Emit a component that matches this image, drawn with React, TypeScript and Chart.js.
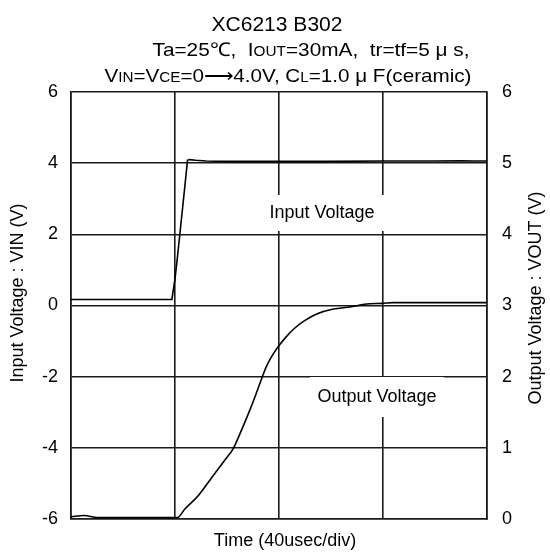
import React, { useEffect, useRef } from "react";
import { Chart, registerables } from "chart.js";

Chart.register(...registerables);

// Time in µs (40 µs/div, 4 divisions)
const inputTime = [0, 10, 20, 30, 38.8, 40.0, 41.0, 42.0, 43.0, 44.0, 44.8, 45.5, 48, 52, 60, 80, 100, 120, 140, 150, 155, 160];
const inputVolt = [0.17, 0.17, 0.17, 0.17, 0.17, 0.75, 1.4, 2.1, 2.8, 3.5, 4.08, 4.1, 4.08, 4.06, 4.05, 4.05, 4.05, 4.06, 4.06, 4.07, 4.06, 4.06];

const outputTime = [0, 5, 10, 20, 30, 40, 40.9, 43.8, 49, 54.1, 59.2, 62.4, 65, 68, 71, 73.6, 75, 76.5, 78, 80.1, 83, 86, 90, 94.5, 100.9, 107.3, 113.7, 119.7, 124, 140, 160];
const outputVolt = [0.03, 0.05, 0.02, 0.02, 0.02, 0.02, 0.02, 0.14, 0.33, 0.58, 0.83, 0.99, 1.2, 1.46, 1.74, 2.0, 2.13, 2.24, 2.33, 2.44, 2.57, 2.68, 2.79, 2.88, 2.95, 2.98, 3.02, 3.03, 3.04, 3.04, 3.04];

const leftTicks = [-6, -4, -2, 0, 2, 4, 6];
const rightTicks = [0, 1, 2, 3, 4, 5, 6];

const FONT = '"Liberation Sans", Arial, Helvetica, sans-serif';

type Seg = { t: string; s: number };

function drawRich(ctx: CanvasRenderingContext2D, segs: Seg[], cx: number, baseline: number, targetW?: number) {
  let total = 0;
  for (const sg of segs) {
    ctx.font = `${sg.s}px ${FONT}`;
    total += ctx.measureText(sg.t).width;
  }
  const k = targetW ? targetW / total : 1;
  ctx.save();
  ctx.translate(cx - (total * k) / 2, baseline);
  ctx.scale(k, 1);
  let x = 0;
  ctx.textAlign = "left";
  ctx.textBaseline = "alphabetic";
  for (const sg of segs) {
    ctx.font = `${sg.s}px ${FONT}`;
    ctx.fillText(sg.t, x, 0);
    x += ctx.measureText(sg.t).width;
  }
  ctx.restore();
}

const annotPlugin = {
  id: "annot",
  afterDraw(chart: any) {
    const ctx: CanvasRenderingContext2D = chart.ctx;
    ctx.save();
    ctx.fillStyle = "#000";
    // Titles
    drawRich(ctx, [{ t: "XC6213 B302", s: 20 }], 277, 31, 131);
    drawRich(
      ctx,
      [
        { t: "Ta=25℃,  I", s: 19 },
        { t: "OUT", s: 14 },
        { t: "=30mA,  tr=tf=5 μ s,", s: 19 },
      ],
      311,
      56,
      317
    );
    drawRich(
      ctx,
      [
        { t: "V", s: 19 },
        { t: "IN", s: 14 },
        { t: "=V", s: 19 },
        { t: "CE", s: 14 },
        { t: "=0⟶4.0V, C", s: 19 },
        { t: "L", s: 14 },
        { t: "=1.0 μ F(ceramic)", s: 19 },
      ],
      288,
      82,
      367
    );

    // In-plot labels with white boxes
    const boxes = [
      { text: "Input Voltage", cx: 322, cy: 213, w: 134, h: 36 },
      { text: "Output Voltage", cx: 377, cy: 397, w: 134, h: 40 },
    ];
    for (const b of boxes) {
      ctx.fillStyle = "#fff";
      ctx.fillRect(b.cx - b.w / 2, b.cy - b.h / 2, b.w, b.h);
      ctx.fillStyle = "#000";
      ctx.font = `18px ${FONT}`;
      ctx.textAlign = "center";
      ctx.textBaseline = "middle";
      ctx.fillText(b.text, b.cx, b.cy);
    }

    // Axis titles
    ctx.font = `18px ${FONT}`;
    ctx.textAlign = "center";
    ctx.textBaseline = "middle";
    ctx.fillText("Time (40usec/div)", 285, 541);

    ctx.save();
    ctx.translate(18, 293);
    ctx.rotate(-Math.PI / 2);
    ctx.fillText("Input Voltage : VIN (V)", 0, 0);
    ctx.restore();

    ctx.save();
    ctx.translate(536, 298);
    ctx.rotate(-Math.PI / 2);
    ctx.fillText("Output Voltage : VOUT (V)", 0, 0);
    ctx.restore();

    ctx.restore();
  },
};

export default function App() {
  const ref = useRef<HTMLCanvasElement | null>(null);
  useEffect(() => {
    document.body.style.margin = "0";
    const canvas = ref.current;
    if (!canvas) return;
    const gridColor = "#1a1a1a";
    const chart = new Chart(canvas, {
      type: "line",
      data: {
        datasets: [
          {
            label: "Input Voltage",
            data: inputTime.map((t, i) => ({ x: t, y: inputVolt[i] })),
            yAxisID: "yL",
            borderColor: "#000",
            borderWidth: 1.6,
            pointRadius: 0,
            tension: 0,
          },
          {
            label: "Output Voltage",
            data: outputTime.map((t, i) => ({ x: t, y: outputVolt[i] })),
            yAxisID: "yR",
            borderColor: "#000",
            borderWidth: 1.6,
            pointRadius: 0,
            cubicInterpolationMode: "monotone",
          },
        ],
      },
      options: {
        animation: false,
        responsive: false,
        devicePixelRatio: 1,
        layout: { padding: { top: 92, left: 0, right: 0, bottom: 0 } },
        plugins: { legend: { display: false }, tooltip: { enabled: false }, title: { display: false } },
        scales: {
          x: {
            type: "linear",
            position: "bottom",
            min: 0,
            max: 160,
            ticks: { display: false, stepSize: 40 },
            grid: { color: gridColor, lineWidth: 1.6, drawTicks: false },
            border: { color: gridColor, width: 1.6 },
            afterFit: (s: any) => {
              s.height = 33;
            },
          },
          yL: {
            type: "linear",
            position: "left",
            min: -6,
            max: 6,
            afterBuildTicks: (s: any) => {
              s.ticks = leftTicks.map((v) => ({ value: v }));
            },
            ticks: { color: "#000", font: { size: 18, family: FONT }, padding: 13 },
            grid: { color: gridColor, lineWidth: 1.6, drawTicks: false },
            border: { color: gridColor, width: 1.6 },
            afterFit: (s: any) => {
              s.width = 71;
            },
          },
          yR: {
            type: "linear",
            position: "right",
            min: 0,
            max: 6,
            afterBuildTicks: (s: any) => {
              s.ticks = rightTicks.map((v) => ({ value: v }));
            },
            ticks: { color: "#000", font: { size: 18, family: FONT }, padding: 15 },
            grid: { display: false, drawTicks: false },
            border: { color: gridColor, width: 1.6 },
            afterFit: (s: any) => {
              s.width = 63;
            },
          },
        },
      },
      plugins: [annotPlugin],
    } as any);
    return () => chart.destroy();
  }, []);
  return (
    <div style={{ position: "absolute", left: 0, top: 0, width: 550, height: 552 }}>
      <canvas ref={ref} width={550} height={552} />
    </div>
  );
}
